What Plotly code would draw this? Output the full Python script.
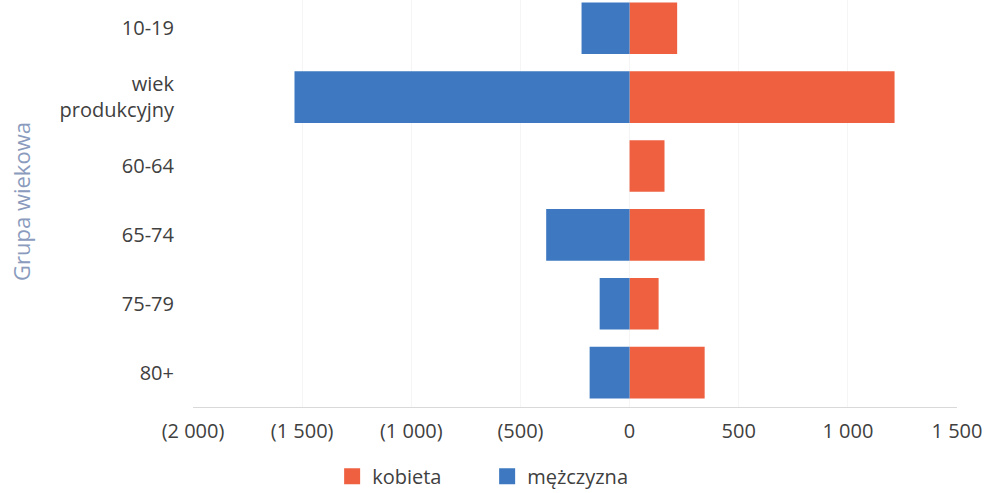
import plotly.graph_objects as go

categories = ["10-19", "wiek<br>produkcyjny", "60-64", "65-74", "75-79", "80+"]
kobieta = [218, 1214, 160, 344, 133, 344]
mezczyzna = [220, 1535, 0, 382, 137, 183]
tick_vals = [-2000, -1500, -1000, -500, 0, 500, 1000, 1500]
tick_text = ["(2 000)", "(1 500)", "(1 000)", "(500)", "0", "500", "1 000", "1 500"]

RED = "#EE6040"
BLUE = "#3D78C1"
FONT = "Open Sans"

fig = go.Figure()
fig.add_trace(go.Bar(
    y=categories, x=kobieta, orientation="h", name="kobieta",
    marker=dict(color=RED, line=dict(width=0)), showlegend=False,
))
fig.add_trace(go.Bar(
    y=categories, x=[-v for v in mezczyzna], orientation="h", name="mężczyzna",
    marker=dict(color=BLUE, line=dict(width=0)), showlegend=False,
))
# legend entries
fig.add_trace(go.Scatter(x=[None], y=[None], mode="markers", name="kobieta",
                         marker=dict(symbol="square", size=16, color=RED)))
fig.add_trace(go.Scatter(x=[None], y=[None], mode="markers", name="mężczyzna",
                         marker=dict(symbol="square", size=16, color=BLUE)))

fig.update_layout(
    width=985, height=493,
    margin=dict(l=193, r=28, t=0, b=86, autoexpand=False),
    barmode="relative", bargap=0.25,
    plot_bgcolor="white", paper_bgcolor="white",
    font=dict(family=FONT, size=20, color="#404040"),
    showlegend=True,
    legend=dict(orientation="h", x=0.385, xanchor="center", y=-0.17, yanchor="middle",
                font=dict(size=20, color="#404040"), itemsizing="trace",
                traceorder="normal", entrywidth=110, entrywidthmode="pixels"),
    xaxis=dict(range=[-2000, 1500], tickvals=tick_vals, ticktext=tick_text,
               showgrid=True, gridcolor="#f5f5f5", gridwidth=1, zeroline=False,
               showline=True, linecolor="#d9d9d9", linewidth=1,
               ticks="", ticklabelstandoff=6,
               tickfont=dict(size=20, color="#404040")),
    yaxis=dict(type="category", categoryorder="array", categoryarray=categories,
               range=[5.5, -0.41], showgrid=False, zeroline=False, showline=False,
               ticks="", ticklabelstandoff=18,
               tickfont=dict(size=20, color="#404040")),
    annotations=[dict(text="Grupa wiekowa", textangle=-90, xref="paper", yref="paper",
                      x=(21 - 193) / 764, y=(407 - 202) / 407, xanchor="center", yanchor="middle",
                      showarrow=False, font=dict(family=FONT, size=22, color="#8a9bbd"))],
)

fig.write_html("out.html", config={"displayModeBar": False},
               post_script="document.body.style.margin='0px';")
